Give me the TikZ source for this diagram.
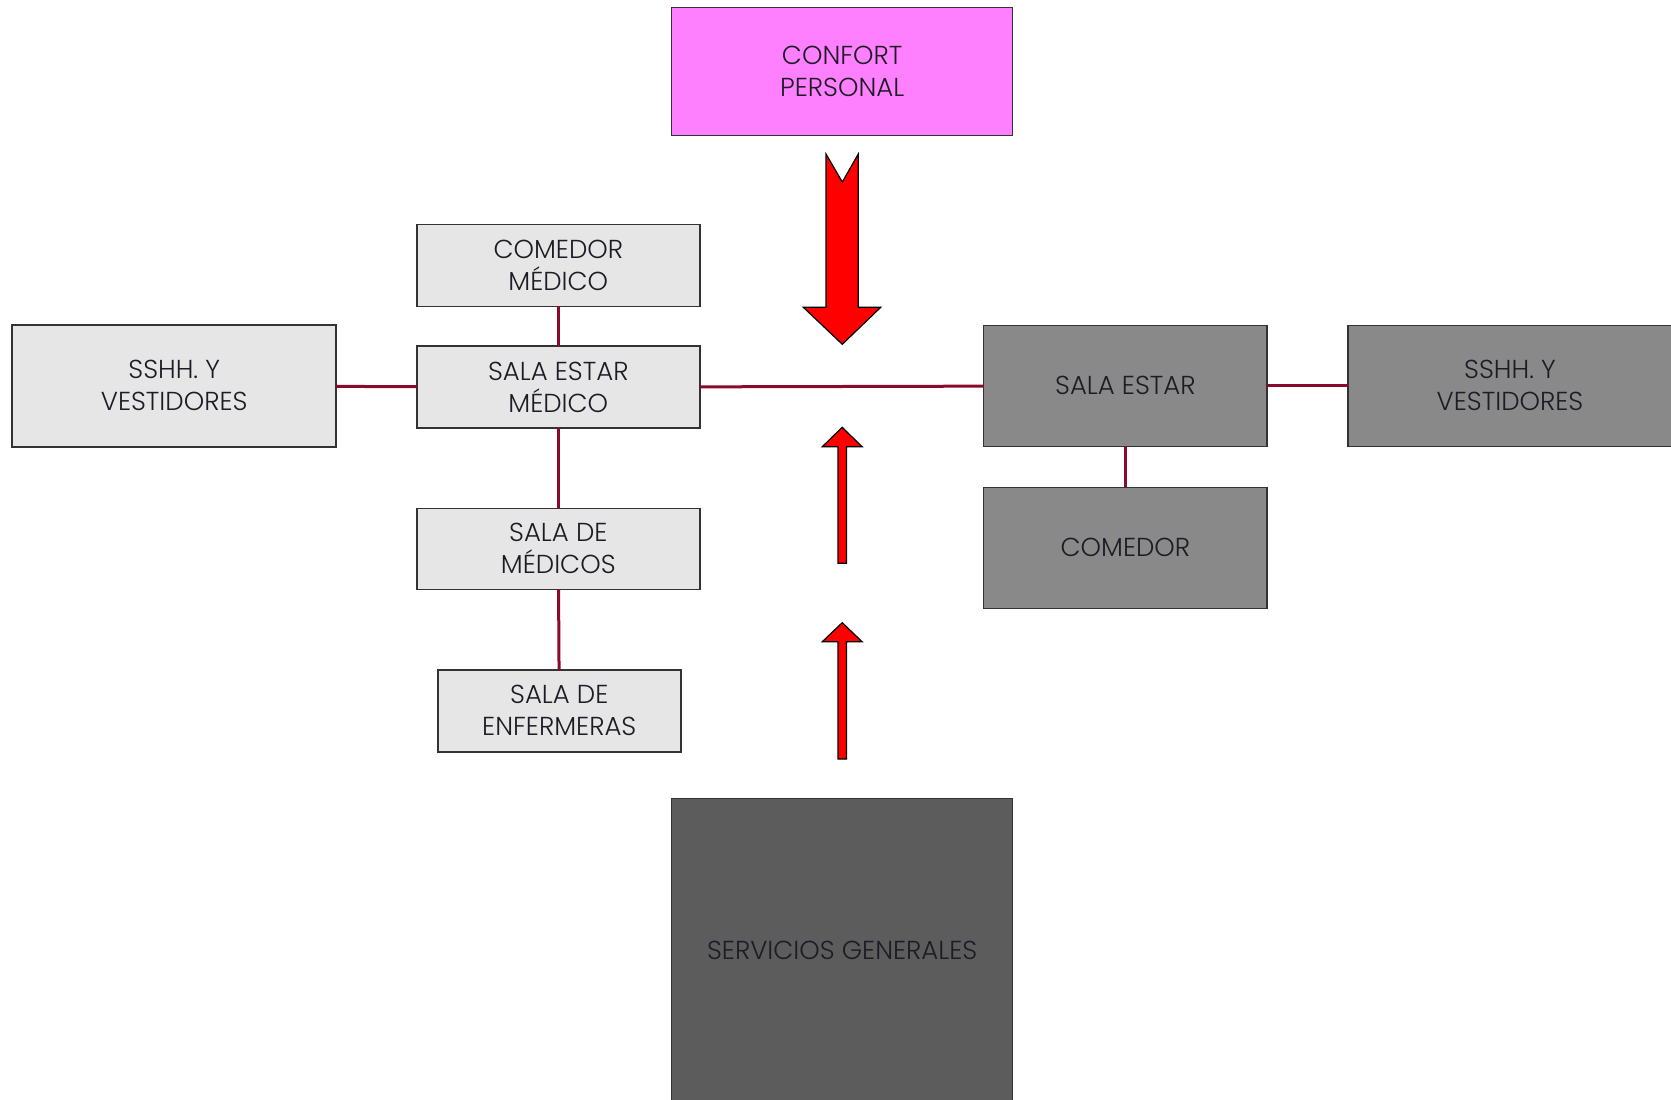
\documentclass[tikz,border=0pt]{standalone}
\usepackage{fontspec}
\setmainfont{Poppins}[UprightFont=* Light]
\begin{document}
\begin{tikzpicture}[x=1pt,y=-1pt,
  room/.style={draw=black!80,line width=1.5pt,inner sep=0pt,outer sep=0pt,
    align=center,text=roomtext,font=\fontsize{26}{32}\selectfont},
  light/.style={room,fill=lightroom},
  mid/.style={room,fill=midroom},
  link/.style={draw=linkred,line width=3pt},
  flow/.style={fill=red,draw=black,line width=1.2pt,line join=miter}
]
\definecolor{lightroom}{HTML}{E6E6E6}
\definecolor{midroom}{HTML}{898989}
\definecolor{darkroom}{HTML}{5C5C5C}
\definecolor{pinkroom}{HTML}{FF80FF}
\definecolor{linkred}{HTML}{8A0A2E}
\definecolor{roomtext}{HTML}{1C1C24}
\useasboundingbox (0,0) rectangle (1671,1100);

% upper block
\node[room,fill=pinkroom,minimum width=341pt,minimum height=128pt] (confort) at (842.2,71.5) {CONFORT\\PERSONAL};

% medical staff zone
\node[light,minimum width=283pt,minimum height=82pt] (comedorMed) at (558.3,265.3) {COMEDOR\\MÉDICO};
\node[light,minimum width=283pt,minimum height=82pt] (salaEstarMed) at (558.3,387.2) {SALA ESTAR\\MÉDICO};
\node[light,minimum width=283pt,minimum height=81pt] (salaMedicos) at (558.3,548.8) {SALA DE\\MÉDICOS};
\node[light,minimum width=243pt,minimum height=82pt] (salaEnf) at (559.3,710.8) {SALA DE\\ENFERMERAS};
\node[light,minimum width=324pt,minimum height=122pt] (sshhL) at (174.2,385.8) {SSHH. Y\\VESTIDORES};

% general staff zone
\node[mid,minimum width=283.5pt,minimum height=121pt] (salaEstar) at (1125.4,385.8) {SALA ESTAR};
\node[mid,minimum width=283.5pt,minimum height=121pt] (comedor) at (1125.4,547.8) {COMEDOR};
\node[mid,minimum width=324pt,minimum height=121pt] (sshhR) at (1510,385.8) {SSHH. Y\\VESTIDORES};

% services
\node[room,fill=darkroom,minimum width=341pt,minimum height=304pt] (servicios) at (842.2,950.3) {SERVICIOS GENERALES};

% links
\draw[link] (comedorMed) -- (salaEstarMed);
\draw[link] (salaEstarMed) -- (salaMedicos);
\draw[link] (salaMedicos) -- (salaEnf);
\draw[link] (sshhL) -- (salaEstarMed);
\draw[link] (salaEstarMed) -- (salaEstar);
\draw[link] (salaEstar) -- (sshhR);
\draw[link] (salaEstar) -- (comedor);

% flow arrows
\draw[flow] (826,154) -- (842.3,182) -- (858.3,154) -- (858.3,307.3) -- (880.7,307.3)
  -- (842.3,344.3) -- (803.3,307.3) -- (826,307.3) -- cycle;
\draw[flow] (838,563.3) -- (838,446.7) -- (822.3,446.7) -- (842.2,427.3) -- (862.1,446.7)
  -- (846.4,446.7) -- (846.4,563.3) -- cycle;
\draw[flow] (838,759) -- (838,641.7) -- (822.3,641.7) -- (842.2,622.7) -- (862.1,641.7)
  -- (846.4,641.7) -- (846.4,759) -- cycle;
\end{tikzpicture}
\end{document}
